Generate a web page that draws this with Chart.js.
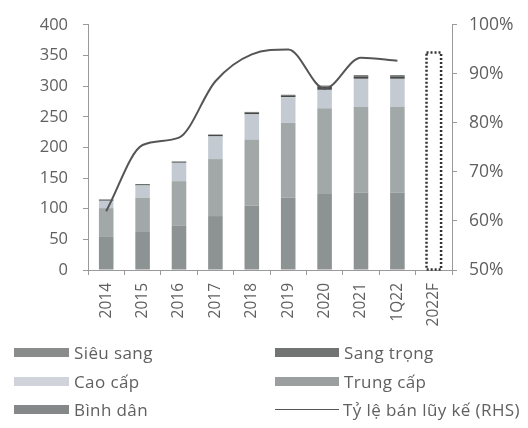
<!DOCTYPE html>
<html lang="vi">
<head>
    <meta charset="UTF-8">
    <title>Tỷ lệ bán lũy kế</title>
    <style>
        body {
            margin: 0;
            background: #fff;
            font-family: 'Open Sans', sans-serif;
            color: #606060;
        }
        .wrap {
            position: relative;
            width: 528px;
            height: 428px;
        }
        #chart {
            position: absolute;
            left: 0;
            top: 0;
        }
        .legend {
            position: absolute;
            left: 0;
            top: 341px;
            width: 528px;
        }
        .legend .item {
            position: absolute;
            display: flex;
            align-items: center;
            font-size: 17px;
            letter-spacing: 0.4px;
            white-space: nowrap;
        }
        .legend .swatch {
            display: inline-block;
            height: 9px;
            margin-right: 5px;
        }
    </style>
    <script src="https://cdn.jsdelivr.net/npm/chart.js"></script>
</head>
<body>
<div class="wrap">
    <canvas id="chart" width="528" height="345"></canvas>
    <div class="legend" id="legend"></div>
</div>
<script>
    // categories
    const years = ['2014', '2015', '2016', '2017', '2018', '2019', '2020', '2021', '1Q22', '2022F'];

    // stacked segments (bottom to top)
    const binhDan   = [55, 62, 72, 88, 105, 118, 124, 126, 126, null];
    const trungCap  = [46, 56, 73, 93, 108, 122, 140, 140, 140, null];
    const caoCap    = [12, 20, 30, 37, 41, 42, 30, 46, 46, null];
    const sangTrong = [2, 2, 2, 3, 3, 3, 5, 4, 4, null];
    const sieuSang  = [0, 0, 0, 0, 1, 1, 2, 2, 2, null];

    // forecast total, drawn only as a dotted outline
    const forecast = [null, null, null, null, null, null, null, null, null, 355];

    // cumulative sales rate (RHS, %)
    const tyLeBan = [62, 75.5, 77, 88.5, 94, 95, 87, 93.3, 92.7, null];

    const leftTicks = { min: 0, max: 400, step: 50 };
    const rightTicks = { min: 50, max: 100, step: 10 };

    const textColor = '#606060';
    const axisColor = '#9a9a9a';

    // dotted outline for the 2022F bar (bar elements have no borderDash)
    const dottedBar = {
        id: 'dottedBar',
        afterDatasetsDraw(chart) {
            const meta = chart.getDatasetMeta(5);
            const ctx = chart.ctx;
            meta.data.forEach((bar, i) => {
                if (forecast[i] == null) return;
                const p = bar.getProps(['x', 'y', 'base', 'width'], true);
                ctx.save();
                ctx.strokeStyle = '#333';
                ctx.lineWidth = 2.5;
                ctx.setLineDash([2, 2]);
                ctx.strokeRect(p.x - p.width / 2, p.y, p.width, p.base - p.y);
                ctx.restore();
            });
        }
    };

    const barDefaults = { yAxisID: 'y', stack: 's', borderWidth: 0, order: 2 };

    const chart = new Chart(document.getElementById('chart'), {
        type: 'bar',
        data: {
            labels: years,
            datasets: [
                { ...barDefaults, label: 'Bình dân', data: binhDan, backgroundColor: '#8d9292', legendColor: '#858888' },
                { ...barDefaults, label: 'Trung cấp', data: trungCap, backgroundColor: '#a2a8a8', legendColor: '#9c9f9f' },
                { ...barDefaults, label: 'Cao cấp', data: caoCap, backgroundColor: '#c3cad2', legendColor: '#d0d4da' },
                { ...barDefaults, label: 'Sang trọng', data: sangTrong, backgroundColor: '#474949', legendColor: '#727474' },
                { ...barDefaults, label: 'Siêu sang', data: sieuSang, backgroundColor: '#6e7070', legendColor: '#8a8c8c' },
                { ...barDefaults, label: '2022F', data: forecast, backgroundColor: 'rgba(0,0,0,0)' },
                {
                    type: 'line',
                    label: 'Tỷ lệ bán lũy kế (RHS)',
                    data: tyLeBan,
                    yAxisID: 'y1',
                    borderColor: '#555',
                    borderWidth: 2,
                    pointRadius: 0,
                    cubicInterpolationMode: 'monotone',
                    order: 1
                }
            ]
        },
        options: {
            responsive: false,
            animation: false,
            layout: { padding: { top: 22, left: 0, right: 0, bottom: 0 } },
            datasets: {
                bar: { categoryPercentage: 1, barPercentage: 0.4 }
            },
            plugins: {
                legend: { display: false },
                tooltip: { enabled: false }
            },
            scales: {
                x: {
                    stacked: true,
                    grid: { drawOnChartArea: false, tickLength: 5, color: axisColor },
                    border: { color: axisColor },
                    ticks: {
                        minRotation: 90,
                        maxRotation: 90,
                        padding: 8,
                        color: textColor,
                        font: { family: 'Open Sans', size: 15.5 }
                    },
                    afterFit(scale) { scale.height = 75; }
                },
                y: {
                    stacked: true,
                    position: 'left',
                    min: leftTicks.min,
                    max: leftTicks.max,
                    grid: { drawOnChartArea: false, tickLength: 5, color: axisColor },
                    border: { color: axisColor },
                    ticks: {
                        stepSize: leftTicks.step,
                        padding: 15,
                        color: textColor,
                        font: { family: 'Open Sans', size: 16.5 }
                    },
                    afterFit(scale) { scale.width = 88; }
                },
                y1: {
                    position: 'right',
                    min: rightTicks.min,
                    max: rightTicks.max,
                    grid: { drawOnChartArea: false, tickLength: 5, color: axisColor },
                    border: { color: axisColor },
                    ticks: {
                        stepSize: rightTicks.step,
                        padding: 12,
                        color: textColor,
                        font: { family: 'Open Sans', size: 17.5 },
                        callback: v => v + '%'
                    },
                    afterFit(scale) { scale.width = 76; }
                }
            }
        },
        plugins: [dottedBar]
    });

    // legend in two columns, same order as the original
    const legendItems = [
        { idx: 4, col: 0, row: 0 },
        { idx: 3, col: 1, row: 0 },
        { idx: 2, col: 0, row: 1 },
        { idx: 1, col: 1, row: 1 },
        { idx: 0, col: 0, row: 2 },
        { idx: 6, col: 1, row: 2 }
    ];
    const legendEl = document.getElementById('legend');
    legendItems.forEach(it => {
        const ds = chart.data.datasets[it.idx];
        const item = document.createElement('div');
        item.className = 'item';
        item.style.left = (it.col === 0 ? 14 : 275) + 'px';
        item.style.top = (it.row * 28.5) + 'px';
        const sw = document.createElement('span');
        sw.className = 'swatch';
        if (ds.type === 'line') {
            sw.style.width = '64px';
            sw.style.height = '0';
            sw.style.borderTop = '1.5px solid ' + ds.borderColor;
            sw.style.marginRight = '4px';
        } else {
            sw.style.width = it.col === 0 ? '55px' : '64px';
            sw.style.background = ds.legendColor;
        }
        item.appendChild(sw);
        item.appendChild(document.createTextNode(ds.label));
        legendEl.appendChild(item);
    });
</script>
</body>
</html>
